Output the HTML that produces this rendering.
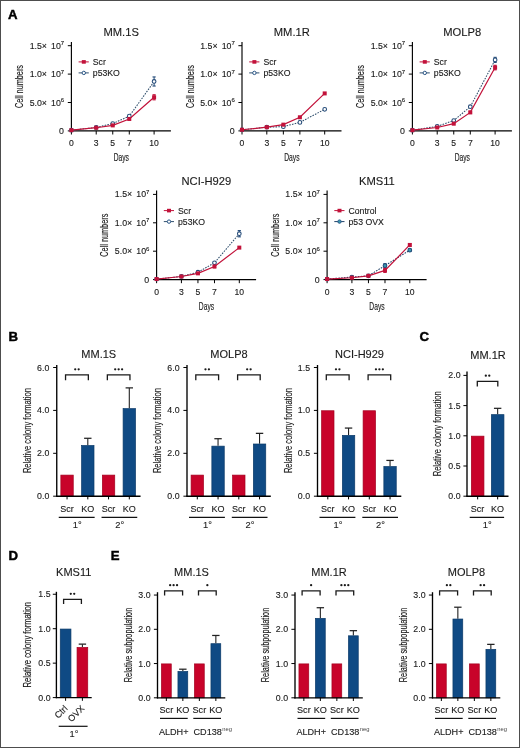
<!DOCTYPE html>
<html><head><meta charset="utf-8"><style>
html,body{margin:0;padding:0;background:#fff;}
body{width:520px;height:748px;overflow:hidden;}
svg{display:block;font-family:"Liberation Sans", sans-serif;will-change:transform;}
text{stroke:#1a1a1a;stroke-width:0.12px;}
text.c{stroke-width:0.15px;}
</style></head><body>
<svg width="520" height="748" viewBox="0 0 520 748">
<rect x="0" y="0" width="520" height="748" fill="#fff"/>
<text x="8.10" y="18.80" font-size="13.2" text-anchor="start" font-weight="bold" fill="#000" style="stroke:#000;stroke-width:0.45px">A</text>
<text x="8.60" y="341.30" font-size="13.2" text-anchor="start" font-weight="bold" fill="#000" style="stroke:#000;stroke-width:0.45px">B</text>
<text x="419.40" y="341.20" font-size="13.2" text-anchor="start" font-weight="bold" fill="#000" style="stroke:#000;stroke-width:0.45px">C</text>
<text x="8.40" y="560.10" font-size="13.2" text-anchor="start" font-weight="bold" fill="#000" style="stroke:#000;stroke-width:0.45px">D</text>
<text x="110.70" y="560.20" font-size="13.2" text-anchor="start" font-weight="bold" fill="#000" style="stroke:#000;stroke-width:0.45px">E</text>
<line x1="71.40" y1="41.90" x2="71.40" y2="131.50" stroke="#000" stroke-width="1.15"/>
<line x1="70.80" y1="130.90" x2="170.90" y2="130.90" stroke="#000" stroke-width="1.15"/>
<line x1="67.80" y1="130.90" x2="71.40" y2="130.90" stroke="#000" stroke-width="1"/>
<text x="64.00" y="133.90" font-size="8.8" text-anchor="end" fill="#1a1a1a">0</text>
<line x1="67.80" y1="102.50" x2="71.40" y2="102.50" stroke="#000" stroke-width="1"/>
<text x="64.20" y="105.50" font-size="8.8" text-anchor="end" fill="#1a1a1a">10<tspan dy="-3.6" font-size="6">6</tspan></text>
<text x="47.00" y="105.50" font-size="8.8" text-anchor="end" fill="#1a1a1a">5.0×</text>
<line x1="67.80" y1="74.10" x2="71.40" y2="74.10" stroke="#000" stroke-width="1"/>
<text x="64.20" y="77.10" font-size="8.8" text-anchor="end" fill="#1a1a1a">10<tspan dy="-3.6" font-size="6">7</tspan></text>
<text x="47.00" y="77.10" font-size="8.8" text-anchor="end" fill="#1a1a1a">1.0×</text>
<line x1="67.80" y1="45.70" x2="71.40" y2="45.70" stroke="#000" stroke-width="1"/>
<text x="64.20" y="48.70" font-size="8.8" text-anchor="end" fill="#1a1a1a">10<tspan dy="-3.6" font-size="6">7</tspan></text>
<text x="47.00" y="48.70" font-size="8.8" text-anchor="end" fill="#1a1a1a">1.5×</text>
<line x1="71.40" y1="130.90" x2="71.40" y2="134.50" stroke="#000" stroke-width="1"/>
<text x="71.40" y="146.20" font-size="8.6" text-anchor="middle" fill="#1a1a1a">0</text>
<line x1="96.21" y1="130.90" x2="96.21" y2="134.50" stroke="#000" stroke-width="1"/>
<text x="96.21" y="146.20" font-size="8.6" text-anchor="middle" fill="#1a1a1a">3</text>
<line x1="112.75" y1="130.90" x2="112.75" y2="134.50" stroke="#000" stroke-width="1"/>
<text x="112.75" y="146.20" font-size="8.6" text-anchor="middle" fill="#1a1a1a">5</text>
<line x1="129.29" y1="130.90" x2="129.29" y2="134.50" stroke="#000" stroke-width="1"/>
<text x="129.29" y="146.20" font-size="8.6" text-anchor="middle" fill="#1a1a1a">7</text>
<line x1="154.10" y1="130.90" x2="154.10" y2="134.50" stroke="#000" stroke-width="1"/>
<text x="154.10" y="146.20" font-size="8.6" text-anchor="middle" fill="#1a1a1a">10</text>
<text class="c" x="121.30" y="160.90" font-size="10.5" text-anchor="middle" fill="#1a1a1a" textLength="15.3" lengthAdjust="spacingAndGlyphs">Days</text>
<text class="c" x="22.90" y="86.50" font-size="10.5" text-anchor="middle" fill="#1a1a1a" textLength="43" lengthAdjust="spacingAndGlyphs" transform="rotate(-90 22.90 86.50)">Cell numbers</text>
<text x="121.20" y="35.80" font-size="11.2" text-anchor="middle" fill="#1a1a1a">MM.1S</text>
<line x1="78.60" y1="61.90" x2="88.80" y2="61.90" stroke="#c2123a" stroke-width="1"/>
<rect x="81.80" y="60.10" width="4.00" height="3.60" fill="#c2123a"/>
<line x1="78.60" y1="72.90" x2="88.80" y2="72.90" stroke="#31506e" stroke-width="1"/>
<circle cx="83.80" cy="72.90" r="1.7" fill="#fff" stroke="#2a5686" stroke-width="1"/>
<text x="92.80" y="64.80" font-size="8.7" text-anchor="start" fill="#1a1a1a">Scr</text>
<text x="92.80" y="75.80" font-size="8.7" text-anchor="start" fill="#1a1a1a">p53KO</text>
<polyline points="71.40,130.22 96.21,127.49 112.75,123.52 129.29,116.19 154.10,81.48" fill="none" stroke="#31506e" stroke-width="1.05" stroke-dasharray="1.6 1.2"/>
<circle cx="71.40" cy="130.22" r="1.85" fill="#fff" stroke="#234a78" stroke-width="1.05"/>
<circle cx="96.21" cy="127.49" r="1.85" fill="#fff" stroke="#234a78" stroke-width="1.05"/>
<circle cx="112.75" cy="123.52" r="1.85" fill="#fff" stroke="#234a78" stroke-width="1.05"/>
<circle cx="129.29" cy="116.19" r="1.85" fill="#fff" stroke="#234a78" stroke-width="1.05"/>
<line x1="154.10" y1="76.94" x2="154.10" y2="86.03" stroke="#234a78" stroke-width="1"/>
<line x1="152.50" y1="76.94" x2="155.70" y2="76.94" stroke="#234a78" stroke-width="1.1"/>
<line x1="152.50" y1="86.03" x2="155.70" y2="86.03" stroke="#234a78" stroke-width="1.1"/>
<circle cx="154.10" cy="81.48" r="1.85" fill="#fff" stroke="#234a78" stroke-width="1.05"/>
<polyline points="71.40,130.22 96.21,127.72 112.75,125.39 129.29,118.97 154.10,97.27" fill="none" stroke="#c2123a" stroke-width="1.2"/>
<rect x="69.40" y="128.22" width="4.00" height="4.00" fill="#c2123a"/>
<rect x="94.21" y="125.72" width="4.00" height="4.00" fill="#c2123a"/>
<rect x="110.75" y="123.39" width="4.00" height="4.00" fill="#c2123a"/>
<line x1="129.29" y1="118.12" x2="129.29" y2="119.82" stroke="#c2123a" stroke-width="1"/>
<line x1="127.69" y1="118.12" x2="130.89" y2="118.12" stroke="#c2123a" stroke-width="1.1"/>
<line x1="127.69" y1="119.82" x2="130.89" y2="119.82" stroke="#c2123a" stroke-width="1.1"/>
<rect x="127.29" y="116.97" width="4.00" height="4.00" fill="#c2123a"/>
<line x1="154.10" y1="94.72" x2="154.10" y2="99.83" stroke="#c2123a" stroke-width="1"/>
<line x1="152.50" y1="94.72" x2="155.70" y2="94.72" stroke="#c2123a" stroke-width="1.1"/>
<line x1="152.50" y1="99.83" x2="155.70" y2="99.83" stroke="#c2123a" stroke-width="1.1"/>
<rect x="152.10" y="95.27" width="4.00" height="4.00" fill="#c2123a"/>
<line x1="242.00" y1="41.90" x2="242.00" y2="131.50" stroke="#000" stroke-width="1.15"/>
<line x1="241.40" y1="130.90" x2="341.50" y2="130.90" stroke="#000" stroke-width="1.15"/>
<line x1="238.40" y1="130.90" x2="242.00" y2="130.90" stroke="#000" stroke-width="1"/>
<text x="234.60" y="133.90" font-size="8.8" text-anchor="end" fill="#1a1a1a">0</text>
<line x1="238.40" y1="102.50" x2="242.00" y2="102.50" stroke="#000" stroke-width="1"/>
<text x="234.80" y="105.50" font-size="8.8" text-anchor="end" fill="#1a1a1a">10<tspan dy="-3.6" font-size="6">6</tspan></text>
<text x="217.60" y="105.50" font-size="8.8" text-anchor="end" fill="#1a1a1a">5.0×</text>
<line x1="238.40" y1="74.10" x2="242.00" y2="74.10" stroke="#000" stroke-width="1"/>
<text x="234.80" y="77.10" font-size="8.8" text-anchor="end" fill="#1a1a1a">10<tspan dy="-3.6" font-size="6">7</tspan></text>
<text x="217.60" y="77.10" font-size="8.8" text-anchor="end" fill="#1a1a1a">1.0×</text>
<line x1="238.40" y1="45.70" x2="242.00" y2="45.70" stroke="#000" stroke-width="1"/>
<text x="234.80" y="48.70" font-size="8.8" text-anchor="end" fill="#1a1a1a">10<tspan dy="-3.6" font-size="6">7</tspan></text>
<text x="217.60" y="48.70" font-size="8.8" text-anchor="end" fill="#1a1a1a">1.5×</text>
<line x1="242.00" y1="130.90" x2="242.00" y2="134.50" stroke="#000" stroke-width="1"/>
<text x="242.00" y="146.20" font-size="8.6" text-anchor="middle" fill="#1a1a1a">0</text>
<line x1="266.81" y1="130.90" x2="266.81" y2="134.50" stroke="#000" stroke-width="1"/>
<text x="266.81" y="146.20" font-size="8.6" text-anchor="middle" fill="#1a1a1a">3</text>
<line x1="283.35" y1="130.90" x2="283.35" y2="134.50" stroke="#000" stroke-width="1"/>
<text x="283.35" y="146.20" font-size="8.6" text-anchor="middle" fill="#1a1a1a">5</text>
<line x1="299.89" y1="130.90" x2="299.89" y2="134.50" stroke="#000" stroke-width="1"/>
<text x="299.89" y="146.20" font-size="8.6" text-anchor="middle" fill="#1a1a1a">7</text>
<line x1="324.70" y1="130.90" x2="324.70" y2="134.50" stroke="#000" stroke-width="1"/>
<text x="324.70" y="146.20" font-size="8.6" text-anchor="middle" fill="#1a1a1a">10</text>
<text class="c" x="291.90" y="160.90" font-size="10.5" text-anchor="middle" fill="#1a1a1a" textLength="15.3" lengthAdjust="spacingAndGlyphs">Days</text>
<text class="c" x="193.50" y="86.50" font-size="10.5" text-anchor="middle" fill="#1a1a1a" textLength="43" lengthAdjust="spacingAndGlyphs" transform="rotate(-90 193.50 86.50)">Cell numbers</text>
<text x="291.80" y="35.80" font-size="11.2" text-anchor="middle" fill="#1a1a1a">MM.1R</text>
<line x1="249.20" y1="61.90" x2="259.40" y2="61.90" stroke="#c2123a" stroke-width="1"/>
<rect x="252.40" y="60.10" width="4.00" height="3.60" fill="#c2123a"/>
<line x1="249.20" y1="72.90" x2="259.40" y2="72.90" stroke="#31506e" stroke-width="1"/>
<circle cx="254.40" cy="72.90" r="1.7" fill="#fff" stroke="#2a5686" stroke-width="1"/>
<text x="263.40" y="64.80" font-size="8.7" text-anchor="start" fill="#1a1a1a">Scr</text>
<text x="263.40" y="75.80" font-size="8.7" text-anchor="start" fill="#1a1a1a">p53KO</text>
<polyline points="242.00,129.76 266.81,127.21 283.35,126.64 299.89,122.38 324.70,109.32" fill="none" stroke="#31506e" stroke-width="1.05" stroke-dasharray="1.6 1.2"/>
<circle cx="242.00" cy="129.76" r="1.85" fill="#fff" stroke="#234a78" stroke-width="1.05"/>
<circle cx="266.81" cy="127.21" r="1.85" fill="#fff" stroke="#234a78" stroke-width="1.05"/>
<circle cx="283.35" cy="126.64" r="1.85" fill="#fff" stroke="#234a78" stroke-width="1.05"/>
<circle cx="299.89" cy="122.38" r="1.85" fill="#fff" stroke="#234a78" stroke-width="1.05"/>
<circle cx="324.70" cy="109.32" r="1.85" fill="#fff" stroke="#234a78" stroke-width="1.05"/>
<polyline points="242.00,129.76 266.81,127.21 283.35,124.65 299.89,117.27 324.70,93.41" fill="none" stroke="#c2123a" stroke-width="1.2"/>
<rect x="240.00" y="127.76" width="4.00" height="4.00" fill="#c2123a"/>
<rect x="264.81" y="125.21" width="4.00" height="4.00" fill="#c2123a"/>
<rect x="281.35" y="122.65" width="4.00" height="4.00" fill="#c2123a"/>
<rect x="297.89" y="115.27" width="4.00" height="4.00" fill="#c2123a"/>
<rect x="322.70" y="91.41" width="4.00" height="4.00" fill="#c2123a"/>
<line x1="412.40" y1="41.90" x2="412.40" y2="131.50" stroke="#000" stroke-width="1.15"/>
<line x1="411.80" y1="130.90" x2="511.90" y2="130.90" stroke="#000" stroke-width="1.15"/>
<line x1="408.80" y1="130.90" x2="412.40" y2="130.90" stroke="#000" stroke-width="1"/>
<text x="405.00" y="133.90" font-size="8.8" text-anchor="end" fill="#1a1a1a">0</text>
<line x1="408.80" y1="102.50" x2="412.40" y2="102.50" stroke="#000" stroke-width="1"/>
<text x="405.20" y="105.50" font-size="8.8" text-anchor="end" fill="#1a1a1a">10<tspan dy="-3.6" font-size="6">6</tspan></text>
<text x="388.00" y="105.50" font-size="8.8" text-anchor="end" fill="#1a1a1a">5.0×</text>
<line x1="408.80" y1="74.10" x2="412.40" y2="74.10" stroke="#000" stroke-width="1"/>
<text x="405.20" y="77.10" font-size="8.8" text-anchor="end" fill="#1a1a1a">10<tspan dy="-3.6" font-size="6">7</tspan></text>
<text x="388.00" y="77.10" font-size="8.8" text-anchor="end" fill="#1a1a1a">1.0×</text>
<line x1="408.80" y1="45.70" x2="412.40" y2="45.70" stroke="#000" stroke-width="1"/>
<text x="405.20" y="48.70" font-size="8.8" text-anchor="end" fill="#1a1a1a">10<tspan dy="-3.6" font-size="6">7</tspan></text>
<text x="388.00" y="48.70" font-size="8.8" text-anchor="end" fill="#1a1a1a">1.5×</text>
<line x1="412.40" y1="130.90" x2="412.40" y2="134.50" stroke="#000" stroke-width="1"/>
<text x="412.40" y="146.20" font-size="8.6" text-anchor="middle" fill="#1a1a1a">0</text>
<line x1="437.21" y1="130.90" x2="437.21" y2="134.50" stroke="#000" stroke-width="1"/>
<text x="437.21" y="146.20" font-size="8.6" text-anchor="middle" fill="#1a1a1a">3</text>
<line x1="453.75" y1="130.90" x2="453.75" y2="134.50" stroke="#000" stroke-width="1"/>
<text x="453.75" y="146.20" font-size="8.6" text-anchor="middle" fill="#1a1a1a">5</text>
<line x1="470.29" y1="130.90" x2="470.29" y2="134.50" stroke="#000" stroke-width="1"/>
<text x="470.29" y="146.20" font-size="8.6" text-anchor="middle" fill="#1a1a1a">7</text>
<line x1="495.10" y1="130.90" x2="495.10" y2="134.50" stroke="#000" stroke-width="1"/>
<text x="495.10" y="146.20" font-size="8.6" text-anchor="middle" fill="#1a1a1a">10</text>
<text class="c" x="462.30" y="160.90" font-size="10.5" text-anchor="middle" fill="#1a1a1a" textLength="15.3" lengthAdjust="spacingAndGlyphs">Days</text>
<text class="c" x="363.90" y="86.50" font-size="10.5" text-anchor="middle" fill="#1a1a1a" textLength="43" lengthAdjust="spacingAndGlyphs" transform="rotate(-90 363.90 86.50)">Cell numbers</text>
<text x="462.20" y="35.80" font-size="11.2" text-anchor="middle" fill="#1a1a1a">MOLP8</text>
<line x1="419.60" y1="61.90" x2="429.80" y2="61.90" stroke="#c2123a" stroke-width="1"/>
<rect x="422.80" y="60.10" width="4.00" height="3.60" fill="#c2123a"/>
<line x1="419.60" y1="72.90" x2="429.80" y2="72.90" stroke="#31506e" stroke-width="1"/>
<circle cx="424.80" cy="72.90" r="1.7" fill="#fff" stroke="#2a5686" stroke-width="1"/>
<text x="433.80" y="64.80" font-size="8.7" text-anchor="start" fill="#1a1a1a">Scr</text>
<text x="433.80" y="75.80" font-size="8.7" text-anchor="start" fill="#1a1a1a">p53KO</text>
<polyline points="412.40,130.22 437.21,126.36 453.75,120.51 470.29,106.70 495.10,59.90" fill="none" stroke="#31506e" stroke-width="1.05" stroke-dasharray="1.6 1.2"/>
<circle cx="412.40" cy="130.22" r="1.85" fill="#fff" stroke="#234a78" stroke-width="1.05"/>
<circle cx="437.21" cy="126.36" r="1.85" fill="#fff" stroke="#234a78" stroke-width="1.05"/>
<circle cx="453.75" cy="120.51" r="1.85" fill="#fff" stroke="#234a78" stroke-width="1.05"/>
<circle cx="470.29" cy="106.70" r="1.85" fill="#fff" stroke="#234a78" stroke-width="1.05"/>
<line x1="495.10" y1="57.34" x2="495.10" y2="62.46" stroke="#234a78" stroke-width="1"/>
<line x1="493.50" y1="57.34" x2="496.70" y2="57.34" stroke="#234a78" stroke-width="1.1"/>
<line x1="493.50" y1="62.46" x2="496.70" y2="62.46" stroke="#234a78" stroke-width="1.1"/>
<circle cx="495.10" cy="59.90" r="1.85" fill="#fff" stroke="#234a78" stroke-width="1.05"/>
<polyline points="412.40,130.22 437.21,127.49 453.75,123.69 470.29,112.38 495.10,67.57" fill="none" stroke="#c2123a" stroke-width="1.2"/>
<rect x="410.40" y="128.22" width="4.00" height="4.00" fill="#c2123a"/>
<rect x="435.21" y="125.49" width="4.00" height="4.00" fill="#c2123a"/>
<rect x="451.75" y="121.69" width="4.00" height="4.00" fill="#c2123a"/>
<line x1="470.29" y1="111.25" x2="470.29" y2="113.52" stroke="#c2123a" stroke-width="1"/>
<line x1="468.69" y1="111.25" x2="471.89" y2="111.25" stroke="#c2123a" stroke-width="1.1"/>
<line x1="468.69" y1="113.52" x2="471.89" y2="113.52" stroke="#c2123a" stroke-width="1.1"/>
<rect x="468.29" y="110.38" width="4.00" height="4.00" fill="#c2123a"/>
<line x1="495.10" y1="65.30" x2="495.10" y2="69.84" stroke="#c2123a" stroke-width="1"/>
<line x1="493.50" y1="65.30" x2="496.70" y2="65.30" stroke="#c2123a" stroke-width="1.1"/>
<line x1="493.50" y1="69.84" x2="496.70" y2="69.84" stroke="#c2123a" stroke-width="1.1"/>
<rect x="493.10" y="65.57" width="4.00" height="4.00" fill="#c2123a"/>
<line x1="156.60" y1="190.60" x2="156.60" y2="280.20" stroke="#000" stroke-width="1.15"/>
<line x1="156.00" y1="279.60" x2="256.10" y2="279.60" stroke="#000" stroke-width="1.15"/>
<line x1="153.00" y1="279.60" x2="156.60" y2="279.60" stroke="#000" stroke-width="1"/>
<text x="149.20" y="282.60" font-size="8.8" text-anchor="end" fill="#1a1a1a">0</text>
<line x1="153.00" y1="251.20" x2="156.60" y2="251.20" stroke="#000" stroke-width="1"/>
<text x="149.40" y="254.20" font-size="8.8" text-anchor="end" fill="#1a1a1a">10<tspan dy="-3.6" font-size="6">6</tspan></text>
<text x="132.20" y="254.20" font-size="8.8" text-anchor="end" fill="#1a1a1a">5.0×</text>
<line x1="153.00" y1="222.80" x2="156.60" y2="222.80" stroke="#000" stroke-width="1"/>
<text x="149.40" y="225.80" font-size="8.8" text-anchor="end" fill="#1a1a1a">10<tspan dy="-3.6" font-size="6">7</tspan></text>
<text x="132.20" y="225.80" font-size="8.8" text-anchor="end" fill="#1a1a1a">1.0×</text>
<line x1="153.00" y1="194.40" x2="156.60" y2="194.40" stroke="#000" stroke-width="1"/>
<text x="149.40" y="197.40" font-size="8.8" text-anchor="end" fill="#1a1a1a">10<tspan dy="-3.6" font-size="6">7</tspan></text>
<text x="132.20" y="197.40" font-size="8.8" text-anchor="end" fill="#1a1a1a">1.5×</text>
<line x1="156.60" y1="279.60" x2="156.60" y2="283.20" stroke="#000" stroke-width="1"/>
<text x="156.60" y="294.90" font-size="8.6" text-anchor="middle" fill="#1a1a1a">0</text>
<line x1="181.41" y1="279.60" x2="181.41" y2="283.20" stroke="#000" stroke-width="1"/>
<text x="181.41" y="294.90" font-size="8.6" text-anchor="middle" fill="#1a1a1a">3</text>
<line x1="197.95" y1="279.60" x2="197.95" y2="283.20" stroke="#000" stroke-width="1"/>
<text x="197.95" y="294.90" font-size="8.6" text-anchor="middle" fill="#1a1a1a">5</text>
<line x1="214.49" y1="279.60" x2="214.49" y2="283.20" stroke="#000" stroke-width="1"/>
<text x="214.49" y="294.90" font-size="8.6" text-anchor="middle" fill="#1a1a1a">7</text>
<line x1="239.30" y1="279.60" x2="239.30" y2="283.20" stroke="#000" stroke-width="1"/>
<text x="239.30" y="294.90" font-size="8.6" text-anchor="middle" fill="#1a1a1a">10</text>
<text class="c" x="206.50" y="309.60" font-size="10.5" text-anchor="middle" fill="#1a1a1a" textLength="15.3" lengthAdjust="spacingAndGlyphs">Days</text>
<text class="c" x="108.10" y="235.20" font-size="10.5" text-anchor="middle" fill="#1a1a1a" textLength="43" lengthAdjust="spacingAndGlyphs" transform="rotate(-90 108.10 235.20)">Cell numbers</text>
<text x="206.40" y="184.50" font-size="11.2" text-anchor="middle" fill="#1a1a1a">NCI-H929</text>
<line x1="163.80" y1="210.60" x2="174.00" y2="210.60" stroke="#c2123a" stroke-width="1"/>
<rect x="167.00" y="208.80" width="4.00" height="3.60" fill="#c2123a"/>
<line x1="163.80" y1="221.60" x2="174.00" y2="221.60" stroke="#31506e" stroke-width="1"/>
<circle cx="169.00" cy="221.60" r="1.7" fill="#fff" stroke="#2a5686" stroke-width="1"/>
<text x="178.00" y="213.50" font-size="8.7" text-anchor="start" fill="#1a1a1a">Scr</text>
<text x="178.00" y="224.50" font-size="8.7" text-anchor="start" fill="#1a1a1a">p53KO</text>
<polyline points="156.60,279.03 181.41,276.48 197.95,272.22 214.49,262.79 239.30,233.71" fill="none" stroke="#31506e" stroke-width="1.05" stroke-dasharray="1.6 1.2"/>
<circle cx="156.60" cy="279.03" r="1.85" fill="#fff" stroke="#234a78" stroke-width="1.05"/>
<circle cx="181.41" cy="276.48" r="1.85" fill="#fff" stroke="#234a78" stroke-width="1.05"/>
<circle cx="197.95" cy="272.22" r="1.85" fill="#fff" stroke="#234a78" stroke-width="1.05"/>
<circle cx="214.49" cy="262.79" r="1.85" fill="#fff" stroke="#234a78" stroke-width="1.05"/>
<line x1="239.30" y1="230.58" x2="239.30" y2="236.83" stroke="#234a78" stroke-width="1"/>
<line x1="237.70" y1="230.58" x2="240.90" y2="230.58" stroke="#234a78" stroke-width="1.1"/>
<line x1="237.70" y1="236.83" x2="240.90" y2="236.83" stroke="#234a78" stroke-width="1.1"/>
<circle cx="239.30" cy="233.71" r="1.85" fill="#fff" stroke="#234a78" stroke-width="1.05"/>
<polyline points="156.60,279.03 181.41,276.48 197.95,273.35 214.49,266.54 239.30,247.62" fill="none" stroke="#c2123a" stroke-width="1.2"/>
<rect x="154.60" y="277.03" width="4.00" height="4.00" fill="#c2123a"/>
<rect x="179.41" y="274.48" width="4.00" height="4.00" fill="#c2123a"/>
<rect x="195.95" y="271.35" width="4.00" height="4.00" fill="#c2123a"/>
<line x1="214.49" y1="265.40" x2="214.49" y2="267.67" stroke="#c2123a" stroke-width="1"/>
<line x1="212.89" y1="265.40" x2="216.09" y2="265.40" stroke="#c2123a" stroke-width="1.1"/>
<line x1="212.89" y1="267.67" x2="216.09" y2="267.67" stroke="#c2123a" stroke-width="1.1"/>
<rect x="212.49" y="264.54" width="4.00" height="4.00" fill="#c2123a"/>
<rect x="237.30" y="245.62" width="4.00" height="4.00" fill="#c2123a"/>
<line x1="327.10" y1="190.60" x2="327.10" y2="280.20" stroke="#000" stroke-width="1.15"/>
<line x1="326.50" y1="279.60" x2="426.60" y2="279.60" stroke="#000" stroke-width="1.15"/>
<line x1="323.50" y1="279.60" x2="327.10" y2="279.60" stroke="#000" stroke-width="1"/>
<text x="319.70" y="282.60" font-size="8.8" text-anchor="end" fill="#1a1a1a">0</text>
<line x1="323.50" y1="251.20" x2="327.10" y2="251.20" stroke="#000" stroke-width="1"/>
<text x="319.90" y="254.20" font-size="8.8" text-anchor="end" fill="#1a1a1a">10<tspan dy="-3.6" font-size="6">6</tspan></text>
<text x="302.70" y="254.20" font-size="8.8" text-anchor="end" fill="#1a1a1a">5.0×</text>
<line x1="323.50" y1="222.80" x2="327.10" y2="222.80" stroke="#000" stroke-width="1"/>
<text x="319.90" y="225.80" font-size="8.8" text-anchor="end" fill="#1a1a1a">10<tspan dy="-3.6" font-size="6">7</tspan></text>
<text x="302.70" y="225.80" font-size="8.8" text-anchor="end" fill="#1a1a1a">1.0×</text>
<line x1="323.50" y1="194.40" x2="327.10" y2="194.40" stroke="#000" stroke-width="1"/>
<text x="319.90" y="197.40" font-size="8.8" text-anchor="end" fill="#1a1a1a">10<tspan dy="-3.6" font-size="6">7</tspan></text>
<text x="302.70" y="197.40" font-size="8.8" text-anchor="end" fill="#1a1a1a">1.5×</text>
<line x1="327.10" y1="279.60" x2="327.10" y2="283.20" stroke="#000" stroke-width="1"/>
<text x="327.10" y="294.90" font-size="8.6" text-anchor="middle" fill="#1a1a1a">0</text>
<line x1="351.91" y1="279.60" x2="351.91" y2="283.20" stroke="#000" stroke-width="1"/>
<text x="351.91" y="294.90" font-size="8.6" text-anchor="middle" fill="#1a1a1a">3</text>
<line x1="368.45" y1="279.60" x2="368.45" y2="283.20" stroke="#000" stroke-width="1"/>
<text x="368.45" y="294.90" font-size="8.6" text-anchor="middle" fill="#1a1a1a">5</text>
<line x1="384.99" y1="279.60" x2="384.99" y2="283.20" stroke="#000" stroke-width="1"/>
<text x="384.99" y="294.90" font-size="8.6" text-anchor="middle" fill="#1a1a1a">7</text>
<line x1="409.80" y1="279.60" x2="409.80" y2="283.20" stroke="#000" stroke-width="1"/>
<text x="409.80" y="294.90" font-size="8.6" text-anchor="middle" fill="#1a1a1a">10</text>
<text class="c" x="377.00" y="309.60" font-size="10.5" text-anchor="middle" fill="#1a1a1a" textLength="15.3" lengthAdjust="spacingAndGlyphs">Days</text>
<text class="c" x="278.60" y="235.20" font-size="10.5" text-anchor="middle" fill="#1a1a1a" textLength="43" lengthAdjust="spacingAndGlyphs" transform="rotate(-90 278.60 235.20)">Cell numbers</text>
<text x="376.90" y="184.50" font-size="11.2" text-anchor="middle" fill="#1a1a1a">KMS11</text>
<line x1="334.30" y1="210.60" x2="344.50" y2="210.60" stroke="#c2123a" stroke-width="1"/>
<rect x="337.50" y="208.80" width="4.00" height="3.60" fill="#c2123a"/>
<line x1="334.30" y1="221.60" x2="344.50" y2="221.60" stroke="#1f3f66" stroke-width="1"/>
<circle cx="339.50" cy="221.60" r="1.7" fill="#3a9ab0" stroke="#2a5686" stroke-width="1"/>
<text x="348.50" y="213.50" font-size="8.7" text-anchor="start" fill="#1a1a1a">Control</text>
<text x="348.50" y="224.50" font-size="8.7" text-anchor="start" fill="#1a1a1a">p53 OVX</text>
<polyline points="327.10,279.03 351.91,277.10 368.45,275.79 384.99,265.63 409.80,250.18" fill="none" stroke="#1f3f66" stroke-width="1.05" stroke-dasharray="1.6 1.2"/>
<circle cx="327.10" cy="279.03" r="1.85" fill="#3a9ab0" stroke="#234a78" stroke-width="1.05"/>
<circle cx="351.91" cy="277.10" r="1.85" fill="#3a9ab0" stroke="#234a78" stroke-width="1.05"/>
<circle cx="368.45" cy="275.79" r="1.85" fill="#3a9ab0" stroke="#234a78" stroke-width="1.05"/>
<line x1="384.99" y1="263.64" x2="384.99" y2="267.62" stroke="#234a78" stroke-width="1"/>
<line x1="383.39" y1="263.64" x2="386.59" y2="263.64" stroke="#234a78" stroke-width="1.1"/>
<line x1="383.39" y1="267.62" x2="386.59" y2="267.62" stroke="#234a78" stroke-width="1.1"/>
<circle cx="384.99" cy="265.63" r="1.85" fill="#3a9ab0" stroke="#234a78" stroke-width="1.05"/>
<line x1="409.80" y1="249.04" x2="409.80" y2="251.31" stroke="#234a78" stroke-width="1"/>
<line x1="408.20" y1="249.04" x2="411.40" y2="249.04" stroke="#234a78" stroke-width="1.1"/>
<line x1="408.20" y1="251.31" x2="411.40" y2="251.31" stroke="#234a78" stroke-width="1.1"/>
<circle cx="409.80" cy="250.18" r="1.85" fill="#3a9ab0" stroke="#234a78" stroke-width="1.05"/>
<polyline points="327.10,279.03 351.91,277.73 368.45,275.79 384.99,270.40 409.80,244.95" fill="none" stroke="#c2123a" stroke-width="1.2"/>
<rect x="325.10" y="277.03" width="4.00" height="4.00" fill="#c2123a"/>
<rect x="349.91" y="275.73" width="4.00" height="4.00" fill="#c2123a"/>
<rect x="366.45" y="273.79" width="4.00" height="4.00" fill="#c2123a"/>
<line x1="384.99" y1="268.41" x2="384.99" y2="272.39" stroke="#c2123a" stroke-width="1"/>
<line x1="383.39" y1="268.41" x2="386.59" y2="268.41" stroke="#c2123a" stroke-width="1.1"/>
<line x1="383.39" y1="272.39" x2="386.59" y2="272.39" stroke="#c2123a" stroke-width="1.1"/>
<rect x="382.99" y="268.40" width="4.00" height="4.00" fill="#c2123a"/>
<line x1="409.80" y1="243.82" x2="409.80" y2="246.09" stroke="#c2123a" stroke-width="1"/>
<line x1="408.20" y1="243.82" x2="411.40" y2="243.82" stroke="#c2123a" stroke-width="1.1"/>
<line x1="408.20" y1="246.09" x2="411.40" y2="246.09" stroke="#c2123a" stroke-width="1.1"/>
<rect x="407.80" y="242.95" width="4.00" height="4.00" fill="#c2123a"/>
<line x1="53.15" y1="496.20" x2="56.75" y2="496.20" stroke="#000" stroke-width="1"/>
<text x="49.35" y="499.20" font-size="8.8" text-anchor="end" fill="#1a1a1a">0.0</text>
<line x1="53.15" y1="453.30" x2="56.75" y2="453.30" stroke="#000" stroke-width="1"/>
<text x="49.35" y="456.30" font-size="8.8" text-anchor="end" fill="#1a1a1a">2.0</text>
<line x1="53.15" y1="410.40" x2="56.75" y2="410.40" stroke="#000" stroke-width="1"/>
<text x="49.35" y="413.40" font-size="8.8" text-anchor="end" fill="#1a1a1a">4.0</text>
<line x1="53.15" y1="367.50" x2="56.75" y2="367.50" stroke="#000" stroke-width="1"/>
<text x="49.35" y="370.50" font-size="8.8" text-anchor="end" fill="#1a1a1a">6.0</text>
<rect x="60.85" y="475.10" width="12.40" height="21.10" fill="#c8032a" stroke="#a3001f" stroke-width="0.7"/>
<line x1="67.05" y1="496.20" x2="67.05" y2="499.40" stroke="#000" stroke-width="1"/>
<line x1="87.80" y1="445.15" x2="87.80" y2="438.28" stroke="#222" stroke-width="1.1"/>
<line x1="84.10" y1="438.28" x2="91.50" y2="438.28" stroke="#222" stroke-width="1.25"/>
<rect x="81.60" y="445.50" width="12.40" height="50.70" fill="#0f4a84" stroke="#0b3a68" stroke-width="0.7"/>
<line x1="87.80" y1="496.20" x2="87.80" y2="499.40" stroke="#000" stroke-width="1"/>
<rect x="102.35" y="475.10" width="12.40" height="21.10" fill="#c8032a" stroke="#a3001f" stroke-width="0.7"/>
<line x1="108.55" y1="496.20" x2="108.55" y2="499.40" stroke="#000" stroke-width="1"/>
<line x1="129.30" y1="408.25" x2="129.30" y2="387.88" stroke="#222" stroke-width="1.1"/>
<line x1="125.60" y1="387.88" x2="133.00" y2="387.88" stroke="#222" stroke-width="1.25"/>
<rect x="123.10" y="408.61" width="12.40" height="87.59" fill="#0f4a84" stroke="#0b3a68" stroke-width="0.7"/>
<line x1="129.30" y1="496.20" x2="129.30" y2="499.40" stroke="#000" stroke-width="1"/>
<line x1="56.75" y1="365.00" x2="56.75" y2="496.80" stroke="#000" stroke-width="1.35"/>
<line x1="56.15" y1="496.20" x2="140.55" y2="496.20" stroke="#000" stroke-width="1.35"/>
<text class="c" x="30.95" y="430.60" font-size="10.5" text-anchor="middle" fill="#1a1a1a" textLength="85" lengthAdjust="spacingAndGlyphs" transform="rotate(-90 30.95 430.60)">Relative colony formation</text>
<text x="98.75" y="358.30" font-size="11" text-anchor="middle" fill="#1a1a1a">MM.1S</text>
<polyline points="65.55,380.30 65.55,374.90 88.35,374.90 88.35,380.30" fill="none" stroke="#1a1a1a" stroke-width="1.3"/>
<circle cx="75.22" cy="369.30" r="1.15" fill="#1a1a1a"/>
<circle cx="78.67" cy="369.30" r="1.15" fill="#1a1a1a"/>
<polyline points="107.35,380.30 107.35,374.90 129.95,374.90 129.95,380.30" fill="none" stroke="#1a1a1a" stroke-width="1.3"/>
<circle cx="115.20" cy="369.30" r="1.15" fill="#1a1a1a"/>
<circle cx="118.65" cy="369.30" r="1.15" fill="#1a1a1a"/>
<circle cx="122.10" cy="369.30" r="1.15" fill="#1a1a1a"/>
<text x="67.05" y="511.80" font-size="9" text-anchor="middle" fill="#1a1a1a">Scr</text>
<text x="87.80" y="511.80" font-size="9" text-anchor="middle" fill="#1a1a1a">KO</text>
<text x="108.55" y="511.80" font-size="9" text-anchor="middle" fill="#1a1a1a">Scr</text>
<text x="129.30" y="511.80" font-size="9" text-anchor="middle" fill="#1a1a1a">KO</text>
<line x1="58.75" y1="517.30" x2="94.65" y2="517.30" stroke="#111" stroke-width="1.2"/>
<line x1="101.55" y1="517.30" x2="137.25" y2="517.30" stroke="#111" stroke-width="1.2"/>
<text x="77.25" y="528.30" font-size="9.3" text-anchor="middle" fill="#1a1a1a">1°</text>
<text x="119.75" y="528.30" font-size="9.3" text-anchor="middle" fill="#1a1a1a">2°</text>
<line x1="183.40" y1="496.20" x2="187.00" y2="496.20" stroke="#000" stroke-width="1"/>
<text x="179.60" y="499.20" font-size="8.8" text-anchor="end" fill="#1a1a1a">0.0</text>
<line x1="183.40" y1="453.30" x2="187.00" y2="453.30" stroke="#000" stroke-width="1"/>
<text x="179.60" y="456.30" font-size="8.8" text-anchor="end" fill="#1a1a1a">2.0</text>
<line x1="183.40" y1="410.40" x2="187.00" y2="410.40" stroke="#000" stroke-width="1"/>
<text x="179.60" y="413.40" font-size="8.8" text-anchor="end" fill="#1a1a1a">4.0</text>
<line x1="183.40" y1="367.50" x2="187.00" y2="367.50" stroke="#000" stroke-width="1"/>
<text x="179.60" y="370.50" font-size="8.8" text-anchor="end" fill="#1a1a1a">6.0</text>
<rect x="191.10" y="475.10" width="12.40" height="21.10" fill="#c8032a" stroke="#a3001f" stroke-width="0.7"/>
<line x1="197.30" y1="496.20" x2="197.30" y2="499.40" stroke="#000" stroke-width="1"/>
<line x1="218.05" y1="445.79" x2="218.05" y2="438.71" stroke="#222" stroke-width="1.1"/>
<line x1="214.35" y1="438.71" x2="221.75" y2="438.71" stroke="#222" stroke-width="1.25"/>
<rect x="211.85" y="446.14" width="12.40" height="50.06" fill="#0f4a84" stroke="#0b3a68" stroke-width="0.7"/>
<line x1="218.05" y1="496.20" x2="218.05" y2="499.40" stroke="#000" stroke-width="1"/>
<rect x="232.60" y="475.10" width="12.40" height="21.10" fill="#c8032a" stroke="#a3001f" stroke-width="0.7"/>
<line x1="238.80" y1="496.20" x2="238.80" y2="499.40" stroke="#000" stroke-width="1"/>
<line x1="259.55" y1="443.65" x2="259.55" y2="433.35" stroke="#222" stroke-width="1.1"/>
<line x1="255.85" y1="433.35" x2="263.25" y2="433.35" stroke="#222" stroke-width="1.25"/>
<rect x="253.35" y="444.00" width="12.40" height="52.20" fill="#0f4a84" stroke="#0b3a68" stroke-width="0.7"/>
<line x1="259.55" y1="496.20" x2="259.55" y2="499.40" stroke="#000" stroke-width="1"/>
<line x1="187.00" y1="365.00" x2="187.00" y2="496.80" stroke="#000" stroke-width="1.35"/>
<line x1="186.40" y1="496.20" x2="270.80" y2="496.20" stroke="#000" stroke-width="1.35"/>
<text class="c" x="161.20" y="430.60" font-size="10.5" text-anchor="middle" fill="#1a1a1a" textLength="85" lengthAdjust="spacingAndGlyphs" transform="rotate(-90 161.20 430.60)">Relative colony formation</text>
<text x="229.00" y="358.30" font-size="11" text-anchor="middle" fill="#1a1a1a">MOLP8</text>
<polyline points="195.80,380.30 195.80,374.90 218.60,374.90 218.60,380.30" fill="none" stroke="#1a1a1a" stroke-width="1.3"/>
<circle cx="205.47" cy="369.30" r="1.15" fill="#1a1a1a"/>
<circle cx="208.92" cy="369.30" r="1.15" fill="#1a1a1a"/>
<polyline points="237.60,380.30 237.60,374.90 260.20,374.90 260.20,380.30" fill="none" stroke="#1a1a1a" stroke-width="1.3"/>
<circle cx="247.17" cy="369.30" r="1.15" fill="#1a1a1a"/>
<circle cx="250.62" cy="369.30" r="1.15" fill="#1a1a1a"/>
<text x="197.30" y="511.80" font-size="9" text-anchor="middle" fill="#1a1a1a">Scr</text>
<text x="218.05" y="511.80" font-size="9" text-anchor="middle" fill="#1a1a1a">KO</text>
<text x="238.80" y="511.80" font-size="9" text-anchor="middle" fill="#1a1a1a">Scr</text>
<text x="259.55" y="511.80" font-size="9" text-anchor="middle" fill="#1a1a1a">KO</text>
<line x1="189.00" y1="517.30" x2="224.90" y2="517.30" stroke="#111" stroke-width="1.2"/>
<line x1="231.80" y1="517.30" x2="267.50" y2="517.30" stroke="#111" stroke-width="1.2"/>
<text x="207.50" y="528.30" font-size="9.3" text-anchor="middle" fill="#1a1a1a">1°</text>
<text x="250.00" y="528.30" font-size="9.3" text-anchor="middle" fill="#1a1a1a">2°</text>
<line x1="313.90" y1="496.20" x2="317.50" y2="496.20" stroke="#000" stroke-width="1"/>
<text x="310.10" y="499.20" font-size="8.8" text-anchor="end" fill="#1a1a1a">0.0</text>
<line x1="313.90" y1="453.30" x2="317.50" y2="453.30" stroke="#000" stroke-width="1"/>
<text x="310.10" y="456.30" font-size="8.8" text-anchor="end" fill="#1a1a1a">0.5</text>
<line x1="313.90" y1="410.40" x2="317.50" y2="410.40" stroke="#000" stroke-width="1"/>
<text x="310.10" y="413.40" font-size="8.8" text-anchor="end" fill="#1a1a1a">1.0</text>
<line x1="313.90" y1="367.50" x2="317.50" y2="367.50" stroke="#000" stroke-width="1"/>
<text x="310.10" y="370.50" font-size="8.8" text-anchor="end" fill="#1a1a1a">1.5</text>
<rect x="321.60" y="410.75" width="12.40" height="85.45" fill="#c8032a" stroke="#a3001f" stroke-width="0.7"/>
<line x1="327.80" y1="496.20" x2="327.80" y2="499.40" stroke="#000" stroke-width="1"/>
<line x1="348.55" y1="435.02" x2="348.55" y2="428.07" stroke="#222" stroke-width="1.1"/>
<line x1="344.85" y1="428.07" x2="352.25" y2="428.07" stroke="#222" stroke-width="1.25"/>
<rect x="342.35" y="435.37" width="12.40" height="60.83" fill="#0f4a84" stroke="#0b3a68" stroke-width="0.7"/>
<line x1="348.55" y1="496.20" x2="348.55" y2="499.40" stroke="#000" stroke-width="1"/>
<rect x="363.10" y="410.75" width="12.40" height="85.45" fill="#c8032a" stroke="#a3001f" stroke-width="0.7"/>
<line x1="369.30" y1="496.20" x2="369.30" y2="499.40" stroke="#000" stroke-width="1"/>
<line x1="390.05" y1="466.17" x2="390.05" y2="460.42" stroke="#222" stroke-width="1.1"/>
<line x1="386.35" y1="460.42" x2="393.75" y2="460.42" stroke="#222" stroke-width="1.25"/>
<rect x="383.85" y="466.52" width="12.40" height="29.68" fill="#0f4a84" stroke="#0b3a68" stroke-width="0.7"/>
<line x1="390.05" y1="496.20" x2="390.05" y2="499.40" stroke="#000" stroke-width="1"/>
<line x1="317.50" y1="365.00" x2="317.50" y2="496.80" stroke="#000" stroke-width="1.35"/>
<line x1="316.90" y1="496.20" x2="401.30" y2="496.20" stroke="#000" stroke-width="1.35"/>
<text class="c" x="291.70" y="430.60" font-size="10.5" text-anchor="middle" fill="#1a1a1a" textLength="85" lengthAdjust="spacingAndGlyphs" transform="rotate(-90 291.70 430.60)">Relative colony formation</text>
<text x="359.50" y="358.30" font-size="11" text-anchor="middle" fill="#1a1a1a">NCI-H929</text>
<polyline points="326.30,380.30 326.30,374.90 349.10,374.90 349.10,380.30" fill="none" stroke="#1a1a1a" stroke-width="1.3"/>
<circle cx="335.98" cy="369.30" r="1.15" fill="#1a1a1a"/>
<circle cx="339.43" cy="369.30" r="1.15" fill="#1a1a1a"/>
<polyline points="368.10,380.30 368.10,374.90 390.70,374.90 390.70,380.30" fill="none" stroke="#1a1a1a" stroke-width="1.3"/>
<circle cx="375.95" cy="369.30" r="1.15" fill="#1a1a1a"/>
<circle cx="379.40" cy="369.30" r="1.15" fill="#1a1a1a"/>
<circle cx="382.85" cy="369.30" r="1.15" fill="#1a1a1a"/>
<text x="327.80" y="511.80" font-size="9" text-anchor="middle" fill="#1a1a1a">Scr</text>
<text x="348.55" y="511.80" font-size="9" text-anchor="middle" fill="#1a1a1a">KO</text>
<text x="369.30" y="511.80" font-size="9" text-anchor="middle" fill="#1a1a1a">Scr</text>
<text x="390.05" y="511.80" font-size="9" text-anchor="middle" fill="#1a1a1a">KO</text>
<line x1="319.50" y1="517.30" x2="355.40" y2="517.30" stroke="#111" stroke-width="1.2"/>
<line x1="362.30" y1="517.30" x2="398.00" y2="517.30" stroke="#111" stroke-width="1.2"/>
<text x="338.00" y="528.30" font-size="9.3" text-anchor="middle" fill="#1a1a1a">1°</text>
<text x="380.50" y="528.30" font-size="9.3" text-anchor="middle" fill="#1a1a1a">2°</text>
<line x1="463.40" y1="496.20" x2="467.00" y2="496.20" stroke="#000" stroke-width="1"/>
<text x="460.60" y="499.20" font-size="8.8" text-anchor="end" fill="#1a1a1a">0.0</text>
<line x1="463.40" y1="466.00" x2="467.00" y2="466.00" stroke="#000" stroke-width="1"/>
<text x="460.60" y="469.00" font-size="8.8" text-anchor="end" fill="#1a1a1a">0.5</text>
<line x1="463.40" y1="435.80" x2="467.00" y2="435.80" stroke="#000" stroke-width="1"/>
<text x="460.60" y="438.80" font-size="8.8" text-anchor="end" fill="#1a1a1a">1.0</text>
<line x1="463.40" y1="405.60" x2="467.00" y2="405.60" stroke="#000" stroke-width="1"/>
<text x="460.60" y="408.60" font-size="8.8" text-anchor="end" fill="#1a1a1a">1.5</text>
<line x1="463.40" y1="375.40" x2="467.00" y2="375.40" stroke="#000" stroke-width="1"/>
<text x="460.60" y="378.40" font-size="8.8" text-anchor="end" fill="#1a1a1a">2.0</text>
<rect x="471.35" y="436.15" width="12.60" height="60.05" fill="#c8032a" stroke="#a3001f" stroke-width="0.7"/>
<line x1="477.65" y1="496.20" x2="477.65" y2="499.40" stroke="#000" stroke-width="1"/>
<line x1="497.65" y1="414.30" x2="497.65" y2="408.32" stroke="#222" stroke-width="1.1"/>
<line x1="493.95" y1="408.32" x2="501.35" y2="408.32" stroke="#222" stroke-width="1.25"/>
<rect x="491.35" y="414.65" width="12.60" height="81.55" fill="#0f4a84" stroke="#0b3a68" stroke-width="0.7"/>
<line x1="497.65" y1="496.20" x2="497.65" y2="499.40" stroke="#000" stroke-width="1"/>
<line x1="467.00" y1="371.40" x2="467.00" y2="496.80" stroke="#000" stroke-width="1.35"/>
<line x1="466.40" y1="496.20" x2="508.50" y2="496.20" stroke="#000" stroke-width="1.35"/>
<text class="c" x="441.20" y="433.80" font-size="10.5" text-anchor="middle" fill="#1a1a1a" textLength="85" lengthAdjust="spacingAndGlyphs" transform="rotate(-90 441.20 433.80)">Relative colony formation</text>
<text x="488.00" y="358.70" font-size="11" text-anchor="middle" fill="#1a1a1a">MM.1R</text>
<polyline points="477.30,386.60 477.30,381.30 497.80,381.30 497.80,386.60" fill="none" stroke="#1a1a1a" stroke-width="1.3"/>
<circle cx="485.82" cy="375.70" r="1.15" fill="#1a1a1a"/>
<circle cx="489.28" cy="375.70" r="1.15" fill="#1a1a1a"/>
<text x="477.60" y="511.80" font-size="9" text-anchor="middle" fill="#1a1a1a">Scr</text>
<text x="497.60" y="511.80" font-size="9" text-anchor="middle" fill="#1a1a1a">KO</text>
<line x1="469.70" y1="517.30" x2="504.10" y2="517.30" stroke="#111" stroke-width="1.2"/>
<text x="487.30" y="527.80" font-size="9.3" text-anchor="middle" fill="#1a1a1a">1°</text>
<line x1="52.80" y1="697.60" x2="56.40" y2="697.60" stroke="#000" stroke-width="1"/>
<text x="50.60" y="700.60" font-size="8.8" text-anchor="end" fill="#1a1a1a">0.0</text>
<line x1="52.80" y1="663.15" x2="56.40" y2="663.15" stroke="#000" stroke-width="1"/>
<text x="50.60" y="666.15" font-size="8.8" text-anchor="end" fill="#1a1a1a">0.5</text>
<line x1="52.80" y1="628.70" x2="56.40" y2="628.70" stroke="#000" stroke-width="1"/>
<text x="50.60" y="631.70" font-size="8.8" text-anchor="end" fill="#1a1a1a">1.0</text>
<line x1="52.80" y1="594.25" x2="56.40" y2="594.25" stroke="#000" stroke-width="1"/>
<text x="50.60" y="597.25" font-size="8.8" text-anchor="end" fill="#1a1a1a">1.5</text>
<rect x="60.25" y="629.05" width="10.70" height="68.55" fill="#0f4a84" stroke="#0b3a68" stroke-width="0.7"/>
<line x1="65.60" y1="697.60" x2="65.60" y2="700.80" stroke="#000" stroke-width="1"/>
<line x1="82.40" y1="647.10" x2="82.40" y2="644.13" stroke="#222" stroke-width="1.1"/>
<line x1="78.70" y1="644.13" x2="86.10" y2="644.13" stroke="#222" stroke-width="1.25"/>
<rect x="77.05" y="647.45" width="10.70" height="50.15" fill="#c8032a" stroke="#a3001f" stroke-width="0.7"/>
<line x1="82.40" y1="697.60" x2="82.40" y2="700.80" stroke="#000" stroke-width="1"/>
<line x1="56.40" y1="591.80" x2="56.40" y2="698.20" stroke="#000" stroke-width="1.35"/>
<line x1="55.80" y1="697.60" x2="91.70" y2="697.60" stroke="#000" stroke-width="1.35"/>
<text class="c" x="30.60" y="644.70" font-size="10.5" text-anchor="middle" fill="#1a1a1a" textLength="85.5" lengthAdjust="spacingAndGlyphs" transform="rotate(-90 30.60 644.70)">Relative colony formation</text>
<text x="73.70" y="576.40" font-size="11" text-anchor="middle" fill="#1a1a1a">KMS11</text>
<polyline points="63.60,604.00 63.60,599.40 81.40,599.40 81.40,604.00" fill="none" stroke="#1a1a1a" stroke-width="1.3"/>
<circle cx="70.78" cy="593.80" r="1.15" fill="#1a1a1a"/>
<circle cx="74.22" cy="593.80" r="1.15" fill="#1a1a1a"/>
<text x="68.10" y="709.10" font-size="9" text-anchor="end" fill="#1a1a1a" transform="rotate(-45 68.10 709.10)">Ctrl</text>
<text x="84.90" y="709.10" font-size="9" text-anchor="end" fill="#1a1a1a" transform="rotate(-45 84.90 709.10)">OVX</text>
<line x1="58.70" y1="726.30" x2="87.60" y2="726.30" stroke="#111" stroke-width="1.2"/>
<text x="74.00" y="737.30" font-size="9.3" text-anchor="middle" fill="#1a1a1a">1°</text>
<line x1="153.90" y1="697.80" x2="157.50" y2="697.80" stroke="#000" stroke-width="1"/>
<text x="150.60" y="700.80" font-size="8.8" text-anchor="end" fill="#1a1a1a">0.0</text>
<line x1="153.90" y1="663.55" x2="157.50" y2="663.55" stroke="#000" stroke-width="1"/>
<text x="150.60" y="666.55" font-size="8.8" text-anchor="end" fill="#1a1a1a">1.0</text>
<line x1="153.90" y1="629.30" x2="157.50" y2="629.30" stroke="#000" stroke-width="1"/>
<text x="150.60" y="632.30" font-size="8.8" text-anchor="end" fill="#1a1a1a">2.0</text>
<line x1="153.90" y1="595.05" x2="157.50" y2="595.05" stroke="#000" stroke-width="1"/>
<text x="150.60" y="598.05" font-size="8.8" text-anchor="end" fill="#1a1a1a">3.0</text>
<rect x="161.45" y="663.90" width="9.80" height="33.90" fill="#c8032a" stroke="#a3001f" stroke-width="0.7"/>
<line x1="166.35" y1="697.80" x2="166.35" y2="701.00" stroke="#000" stroke-width="1"/>
<line x1="182.85" y1="671.08" x2="182.85" y2="669.20" stroke="#222" stroke-width="1.1"/>
<line x1="179.15" y1="669.20" x2="186.55" y2="669.20" stroke="#222" stroke-width="1.25"/>
<rect x="177.95" y="671.43" width="9.80" height="26.36" fill="#0f4a84" stroke="#0b3a68" stroke-width="0.7"/>
<line x1="182.85" y1="697.80" x2="182.85" y2="701.00" stroke="#000" stroke-width="1"/>
<rect x="194.45" y="663.90" width="9.80" height="33.90" fill="#c8032a" stroke="#a3001f" stroke-width="0.7"/>
<line x1="199.35" y1="697.80" x2="199.35" y2="701.00" stroke="#000" stroke-width="1"/>
<line x1="215.85" y1="643.34" x2="215.85" y2="635.46" stroke="#222" stroke-width="1.1"/>
<line x1="212.15" y1="635.46" x2="219.55" y2="635.46" stroke="#222" stroke-width="1.25"/>
<rect x="210.95" y="643.69" width="9.80" height="54.11" fill="#0f4a84" stroke="#0b3a68" stroke-width="0.7"/>
<line x1="215.85" y1="697.80" x2="215.85" y2="701.00" stroke="#000" stroke-width="1"/>
<line x1="157.50" y1="592.20" x2="157.50" y2="698.40" stroke="#000" stroke-width="1.35"/>
<line x1="156.90" y1="697.80" x2="225.30" y2="697.80" stroke="#000" stroke-width="1.35"/>
<text class="c" x="131.70" y="645.00" font-size="10.5" text-anchor="middle" fill="#1a1a1a" textLength="74.5" lengthAdjust="spacingAndGlyphs" transform="rotate(-90 131.70 645.00)">Relative subpopulation</text>
<text x="191.50" y="576.30" font-size="11" text-anchor="middle" fill="#1a1a1a">MM.1S</text>
<polyline points="164.60,595.40 164.60,590.80 182.60,590.80 182.60,595.40" fill="none" stroke="#1a1a1a" stroke-width="1.3"/>
<circle cx="170.15" cy="585.20" r="1.15" fill="#1a1a1a"/>
<circle cx="173.60" cy="585.20" r="1.15" fill="#1a1a1a"/>
<circle cx="177.05" cy="585.20" r="1.15" fill="#1a1a1a"/>
<polyline points="198.50,595.40 198.50,590.80 216.20,590.80 216.20,595.40" fill="none" stroke="#1a1a1a" stroke-width="1.3"/>
<circle cx="207.35" cy="585.20" r="1.15" fill="#1a1a1a"/>
<text x="166.35" y="713.00" font-size="9.1" text-anchor="middle" fill="#1a1a1a">Scr</text>
<text x="182.85" y="713.00" font-size="9.1" text-anchor="middle" fill="#1a1a1a">KO</text>
<text x="199.35" y="713.00" font-size="9.1" text-anchor="middle" fill="#1a1a1a">Scr</text>
<text x="215.85" y="713.00" font-size="9.1" text-anchor="middle" fill="#1a1a1a">KO</text>
<line x1="160.00" y1="718.40" x2="187.70" y2="718.40" stroke="#111" stroke-width="1.2"/>
<line x1="193.30" y1="718.40" x2="221.00" y2="718.40" stroke="#111" stroke-width="1.2"/>
<text x="158.90" y="734.60" font-size="9.1" text-anchor="start" fill="#1a1a1a">ALDH+</text>
<text x="193.50" y="734.6" font-size="9.1" fill="#1a1a1a">CD138<tspan dx="0.5" dy="-3.2" font-size="5.8" fill="#444" style="stroke-width:0">neg</tspan></text>
<line x1="291.40" y1="697.80" x2="295.00" y2="697.80" stroke="#000" stroke-width="1"/>
<text x="288.10" y="700.80" font-size="8.8" text-anchor="end" fill="#1a1a1a">0.0</text>
<line x1="291.40" y1="663.55" x2="295.00" y2="663.55" stroke="#000" stroke-width="1"/>
<text x="288.10" y="666.55" font-size="8.8" text-anchor="end" fill="#1a1a1a">1.0</text>
<line x1="291.40" y1="629.30" x2="295.00" y2="629.30" stroke="#000" stroke-width="1"/>
<text x="288.10" y="632.30" font-size="8.8" text-anchor="end" fill="#1a1a1a">2.0</text>
<line x1="291.40" y1="595.05" x2="295.00" y2="595.05" stroke="#000" stroke-width="1"/>
<text x="288.10" y="598.05" font-size="8.8" text-anchor="end" fill="#1a1a1a">3.0</text>
<rect x="298.95" y="663.90" width="9.80" height="33.90" fill="#c8032a" stroke="#a3001f" stroke-width="0.7"/>
<line x1="303.85" y1="697.80" x2="303.85" y2="701.00" stroke="#000" stroke-width="1"/>
<line x1="320.35" y1="618.00" x2="320.35" y2="607.72" stroke="#222" stroke-width="1.1"/>
<line x1="316.65" y1="607.72" x2="324.05" y2="607.72" stroke="#222" stroke-width="1.25"/>
<rect x="315.45" y="618.35" width="9.80" height="79.45" fill="#0f4a84" stroke="#0b3a68" stroke-width="0.7"/>
<line x1="320.35" y1="697.80" x2="320.35" y2="701.00" stroke="#000" stroke-width="1"/>
<rect x="331.95" y="663.90" width="9.80" height="33.90" fill="#c8032a" stroke="#a3001f" stroke-width="0.7"/>
<line x1="336.85" y1="697.80" x2="336.85" y2="701.00" stroke="#000" stroke-width="1"/>
<line x1="353.35" y1="635.46" x2="353.35" y2="630.67" stroke="#222" stroke-width="1.1"/>
<line x1="349.65" y1="630.67" x2="357.05" y2="630.67" stroke="#222" stroke-width="1.25"/>
<rect x="348.45" y="635.81" width="9.80" height="61.98" fill="#0f4a84" stroke="#0b3a68" stroke-width="0.7"/>
<line x1="353.35" y1="697.80" x2="353.35" y2="701.00" stroke="#000" stroke-width="1"/>
<line x1="295.00" y1="592.20" x2="295.00" y2="698.40" stroke="#000" stroke-width="1.35"/>
<line x1="294.40" y1="697.80" x2="362.80" y2="697.80" stroke="#000" stroke-width="1.35"/>
<text class="c" x="269.20" y="645.00" font-size="10.5" text-anchor="middle" fill="#1a1a1a" textLength="74.5" lengthAdjust="spacingAndGlyphs" transform="rotate(-90 269.20 645.00)">Relative subpopulation</text>
<text x="329.00" y="576.30" font-size="11" text-anchor="middle" fill="#1a1a1a">MM.1R</text>
<polyline points="302.10,595.40 302.10,590.80 320.10,590.80 320.10,595.40" fill="none" stroke="#1a1a1a" stroke-width="1.3"/>
<circle cx="311.10" cy="585.20" r="1.15" fill="#1a1a1a"/>
<polyline points="336.00,595.40 336.00,590.80 353.70,590.80 353.70,595.40" fill="none" stroke="#1a1a1a" stroke-width="1.3"/>
<circle cx="341.40" cy="585.20" r="1.15" fill="#1a1a1a"/>
<circle cx="344.85" cy="585.20" r="1.15" fill="#1a1a1a"/>
<circle cx="348.30" cy="585.20" r="1.15" fill="#1a1a1a"/>
<text x="303.85" y="713.00" font-size="9.1" text-anchor="middle" fill="#1a1a1a">Scr</text>
<text x="320.35" y="713.00" font-size="9.1" text-anchor="middle" fill="#1a1a1a">KO</text>
<text x="336.85" y="713.00" font-size="9.1" text-anchor="middle" fill="#1a1a1a">Scr</text>
<text x="353.35" y="713.00" font-size="9.1" text-anchor="middle" fill="#1a1a1a">KO</text>
<line x1="297.50" y1="718.40" x2="325.20" y2="718.40" stroke="#111" stroke-width="1.2"/>
<line x1="330.80" y1="718.40" x2="358.50" y2="718.40" stroke="#111" stroke-width="1.2"/>
<text x="296.40" y="734.60" font-size="9.1" text-anchor="start" fill="#1a1a1a">ALDH+</text>
<text x="331.00" y="734.6" font-size="9.1" fill="#1a1a1a">CD138<tspan dx="0.5" dy="-3.2" font-size="5.8" fill="#444" style="stroke-width:0">neg</tspan></text>
<line x1="428.90" y1="697.80" x2="432.50" y2="697.80" stroke="#000" stroke-width="1"/>
<text x="425.60" y="700.80" font-size="8.8" text-anchor="end" fill="#1a1a1a">0.0</text>
<line x1="428.90" y1="663.55" x2="432.50" y2="663.55" stroke="#000" stroke-width="1"/>
<text x="425.60" y="666.55" font-size="8.8" text-anchor="end" fill="#1a1a1a">1.0</text>
<line x1="428.90" y1="629.30" x2="432.50" y2="629.30" stroke="#000" stroke-width="1"/>
<text x="425.60" y="632.30" font-size="8.8" text-anchor="end" fill="#1a1a1a">2.0</text>
<line x1="428.90" y1="595.05" x2="432.50" y2="595.05" stroke="#000" stroke-width="1"/>
<text x="425.60" y="598.05" font-size="8.8" text-anchor="end" fill="#1a1a1a">3.0</text>
<rect x="436.45" y="663.90" width="9.80" height="33.90" fill="#c8032a" stroke="#a3001f" stroke-width="0.7"/>
<line x1="441.35" y1="697.80" x2="441.35" y2="701.00" stroke="#000" stroke-width="1"/>
<line x1="457.85" y1="618.68" x2="457.85" y2="607.21" stroke="#222" stroke-width="1.1"/>
<line x1="454.15" y1="607.21" x2="461.55" y2="607.21" stroke="#222" stroke-width="1.25"/>
<rect x="452.95" y="619.03" width="9.80" height="78.77" fill="#0f4a84" stroke="#0b3a68" stroke-width="0.7"/>
<line x1="457.85" y1="697.80" x2="457.85" y2="701.00" stroke="#000" stroke-width="1"/>
<rect x="469.45" y="663.90" width="9.80" height="33.90" fill="#c8032a" stroke="#a3001f" stroke-width="0.7"/>
<line x1="474.35" y1="697.80" x2="474.35" y2="701.00" stroke="#000" stroke-width="1"/>
<line x1="490.85" y1="648.99" x2="490.85" y2="644.37" stroke="#222" stroke-width="1.1"/>
<line x1="487.15" y1="644.37" x2="494.55" y2="644.37" stroke="#222" stroke-width="1.25"/>
<rect x="485.95" y="649.34" width="9.80" height="48.46" fill="#0f4a84" stroke="#0b3a68" stroke-width="0.7"/>
<line x1="490.85" y1="697.80" x2="490.85" y2="701.00" stroke="#000" stroke-width="1"/>
<line x1="432.50" y1="592.20" x2="432.50" y2="698.40" stroke="#000" stroke-width="1.35"/>
<line x1="431.90" y1="697.80" x2="500.30" y2="697.80" stroke="#000" stroke-width="1.35"/>
<text class="c" x="406.70" y="645.00" font-size="10.5" text-anchor="middle" fill="#1a1a1a" textLength="74.5" lengthAdjust="spacingAndGlyphs" transform="rotate(-90 406.70 645.00)">Relative subpopulation</text>
<text x="466.50" y="576.30" font-size="11" text-anchor="middle" fill="#1a1a1a">MOLP8</text>
<polyline points="439.60,595.40 439.60,590.80 457.60,590.80 457.60,595.40" fill="none" stroke="#1a1a1a" stroke-width="1.3"/>
<circle cx="446.88" cy="585.20" r="1.15" fill="#1a1a1a"/>
<circle cx="450.33" cy="585.20" r="1.15" fill="#1a1a1a"/>
<polyline points="473.50,595.40 473.50,590.80 491.20,590.80 491.20,595.40" fill="none" stroke="#1a1a1a" stroke-width="1.3"/>
<circle cx="480.62" cy="585.20" r="1.15" fill="#1a1a1a"/>
<circle cx="484.08" cy="585.20" r="1.15" fill="#1a1a1a"/>
<text x="441.35" y="713.00" font-size="9.1" text-anchor="middle" fill="#1a1a1a">Scr</text>
<text x="457.85" y="713.00" font-size="9.1" text-anchor="middle" fill="#1a1a1a">KO</text>
<text x="474.35" y="713.00" font-size="9.1" text-anchor="middle" fill="#1a1a1a">Scr</text>
<text x="490.85" y="713.00" font-size="9.1" text-anchor="middle" fill="#1a1a1a">KO</text>
<line x1="435.00" y1="718.40" x2="462.70" y2="718.40" stroke="#111" stroke-width="1.2"/>
<line x1="468.30" y1="718.40" x2="496.00" y2="718.40" stroke="#111" stroke-width="1.2"/>
<text x="433.90" y="734.60" font-size="9.1" text-anchor="start" fill="#1a1a1a">ALDH+</text>
<text x="468.50" y="734.6" font-size="9.1" fill="#1a1a1a">CD138<tspan dx="0.5" dy="-3.2" font-size="5.8" fill="#444" style="stroke-width:0">neg</tspan></text>
<rect x="0.5" y="0.5" width="519" height="747" fill="none" stroke="#4d4d4d" stroke-width="1"/>
</svg>
</body></html>
